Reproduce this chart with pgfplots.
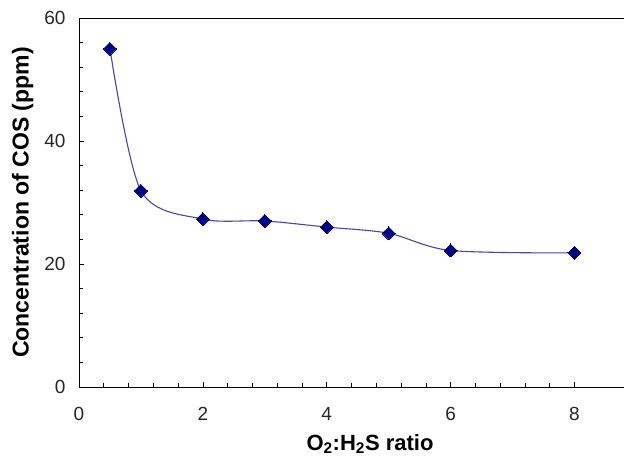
\documentclass[border=0pt]{standalone}
\usepackage{pgfplots}
\pgfplotsset{compat=1.18}
\usetikzlibrary{calc}
\usepackage{fontspec}
\setmainfont{Liberation Sans}

\definecolor{markblue}{RGB}{0,0,128}
\definecolor{lineblue}{RGB}{72,72,160}

\begin{document}
\begin{tikzpicture}
\begin{axis}[
    scale only axis,
    width=545pt, height=369pt,
    xmin=0, xmax=8.8,
    ymin=0, ymax=60,
    xtick={0,2,4,6,8},
    ytick={0,20,40,60},
    minor x tick num=4,
    minor y tick num=4,
    axis y line*=left,
    axis line style={-, black, line width=0.8pt},
    xtick pos=bottom,
    tick align=inside,
    major tick length=5pt,
    minor tick length=4pt,
    tick style={black, line width=0.6pt},
    ticklabel style={font=\fontsize{19}{22}\selectfont, text=black!85},
    xticklabel shift=17pt,
    yticklabel shift=10pt,
    /pgf/number format/assume math mode=true,
    xlabel={O\textsubscript{2}:H\textsubscript{2}S ratio},
    ylabel={Concentration of COS (ppm)},
    every axis x label/.style={at={(axis description cs:0.534,-0.128)}, anchor=north, inner sep=0pt, font=\fontsize{22}{26}\selectfont\bfseries},
    every axis y label/.style={at={(axis description cs:-0.0835,0.5)}, rotate=90, anchor=south, inner sep=0pt, font=\fontsize{23}{27}\selectfont\bfseries},
]
\coordinate (bl) at (rel axis cs:0,0);
\coordinate (tr) at (rel axis cs:1,1);
\addplot[lineblue, line width=1.1pt, smooth, tension=0.5,
    mark=square*, mark size=4.6pt,
    mark options={rotate=45, fill=markblue, draw=markblue, line width=0pt}]
coordinates {
    (0.5,55.0) (1,31.9) (2,27.3) (3,27.0) (4,26.0) (5,25.0) (6,22.2) (8,21.8)
};
\end{axis}
\pgfresetboundingbox
\path[use as bounding box] ($(bl)+(-79pt,-69pt)$) rectangle ($(tr)+(0pt,18pt)$);
\end{tikzpicture}
\end{document}
